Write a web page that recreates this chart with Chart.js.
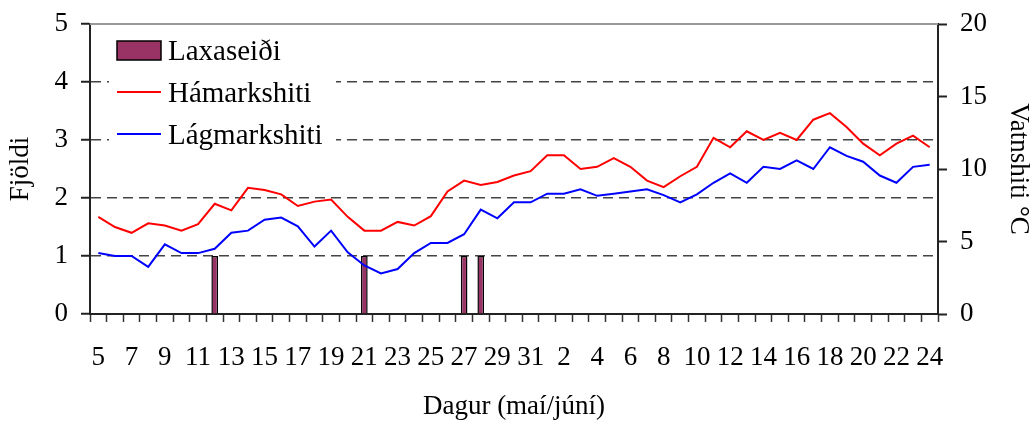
<!DOCTYPE html>
<html>
<head>
<meta charset="utf-8">
<script src="https://cdn.jsdelivr.net/npm/chart.js@4.4.1/dist/chart.umd.min.js"></script>
<style>
  body { margin: 0; background: #fff; }
  #wrap { width: 1034px; height: 423px; }
</style>
</head>
<body>
<div id="wrap"><canvas id="chart" width="1034" height="423"></canvas></div>
<script>
// day of month, 5 May .. 24 June
const days = [5, 6, 7, 8, 9, 10, 11, 12, 13, 14, 15, 16, 17, 18, 19, 20, 21, 22, 23, 24, 25, 26, 27, 28, 29, 30, 31,
              1, 2, 3, 4, 5, 6, 7, 8, 9, 10, 11, 12, 13, 14, 15, 16, 17, 18, 19, 20, 21, 22, 23, 24];

// number of salmon smolts caught (left axis)
const laxaseidi = [null, null, null, null, null, null, null, 1, null, null, null, null, null, null, null, null, 1, null, null, null, null, null, 1, 1, null, null, null,
                   null, null, null, null, null, null, null, null, null, null, null, null, null, null, null, null, null, null, null, null, null, null, null, null];

// max / min water temperature, °C (right axis)
const hamarkshiti = [6.7, 6.0, 5.6, 6.25, 6.1, 5.75, 6.2, 7.6, 7.15, 8.7, 8.55, 8.25, 7.45, 7.75, 7.9, 6.7, 5.75, 5.75, 6.35, 6.1, 6.75, 8.45, 9.2, 8.9, 9.1, 9.55, 9.85,
                     10.95, 10.95, 10.0, 10.15, 10.75, 10.15, 9.2, 8.75, 9.5, 10.15, 12.15, 11.5, 12.6, 12.0, 12.5, 12.0, 13.4, 13.85, 12.9, 11.75, 10.95, 11.75, 12.3, 11.5];
const lagmarkshiti = [4.2, 4.0, 4.0, 3.25, 4.8, 4.2, 4.2, 4.5, 5.6, 5.75, 6.5, 6.65, 6.05, 4.65, 5.75, 4.25, 3.35, 2.8, 3.1, 4.2, 4.9, 4.9, 5.5, 7.2, 6.6, 7.7, 7.7,
                      8.3, 8.3, 8.6, 8.15, 8.3, 8.45, 8.6, 8.2, 7.7, 8.25, 9.05, 9.7, 9.05, 10.15, 10.0, 10.6, 10.0, 11.5, 10.9, 10.5, 9.55, 9.05, 10.15, 10.3];

const axisColor = '#222';

Chart.defaults.font.family = "'Liberation Serif', 'Times New Roman', serif";
Chart.defaults.font.size = 27;
Chart.defaults.color = '#000';

// legend drawn inside the plot, top left, like the original
const insideLegend = {
  id: 'insideLegend',
  afterDraw(chart) {
    const ctx = chart.ctx;
    const a = chart.chartArea;
    ctx.save();
    // top border of plot area
    ctx.strokeStyle = '#999';
    ctx.lineWidth = 2;
    ctx.beginPath();
    ctx.moveTo(a.left, a.top);
    ctx.lineTo(a.right, a.top);
    ctx.stroke();

    ctx.fillStyle = '#fff';
    ctx.fillRect(109, 30, 227, 140);
    ctx.font = "29px 'Liberation Serif'";
    ctx.textBaseline = 'alphabetic';
    ctx.textAlign = 'left';
    chart.data.datasets.forEach((ds, i) => {
      const y = 50 + i * 42;
      if (ds.type === 'bar') {
        ctx.fillStyle = ds.backgroundColor;
        ctx.fillRect(117, y - 9, 44, 19);
        ctx.strokeStyle = ds.borderColor;
        ctx.lineWidth = 1.5;
        ctx.strokeRect(117, y - 9, 44, 19);
      } else {
        ctx.strokeStyle = ds.borderColor;
        ctx.lineWidth = 2;
        ctx.beginPath();
        ctx.moveTo(117, y);
        ctx.lineTo(161, y);
        ctx.stroke();
      }
      ctx.fillStyle = '#000';
      ctx.fillText(ds.label, 168, y + 10);
    });
    ctx.restore();
  }
};

// fixed axis sizes so the plot area sits where the original one does
const fitVertical = w => s => { s.width = w; s.paddingTop = 0; s.paddingBottom = 0; };

new Chart(document.getElementById('chart'), {
  data: {
    labels: days.map(String),
    datasets: [
      {
        type: 'bar',
        label: 'Laxaseiði',
        data: laxaseidi,
        yAxisID: 'y',
        backgroundColor: '#993366',
        borderColor: '#000',
        borderWidth: 1.5,
        barPercentage: 0.4,
        categoryPercentage: 1,
        order: 2
      },
      {
        type: 'line',
        label: 'Hámarkshiti',
        data: hamarkshiti,
        yAxisID: 'y2',
        borderColor: '#ff0000',
        backgroundColor: '#ff0000',
        borderWidth: 2,
        pointRadius: 0,
        tension: 0,
        order: 1
      },
      {
        type: 'line',
        label: 'Lágmarkshiti',
        data: lagmarkshiti,
        yAxisID: 'y2',
        borderColor: '#0000ff',
        backgroundColor: '#0000ff',
        borderWidth: 2,
        pointRadius: 0,
        tension: 0,
        order: 1
      }
    ]
  },
  options: {
    responsive: false,
    animation: false,
    layout: { padding: { top: 24, left: 0, right: 0, bottom: 0 } },
    plugins: {
      legend: { display: false },
      tooltip: { enabled: false }
    },
    scales: {
      x: {
        offset: true,
        grid: {
          offset: true,
          drawOnChartArea: false,
          tickLength: 8,
          tickColor: '#333',
          tickWidth: 1.5
        },
        border: { color: axisColor, width: 2 },
        ticks: {
          autoSkip: false,
          maxRotation: 0,
          padding: 20,
          callback: function (val, i) { return i % 2 === 0 ? this.getLabelForValue(val) : ''; }
        },
        title: { display: true, text: 'Dagur (maí/júní)', padding: 0 },
        afterFit: s => { s.height = 109; }
      },
      y: {
        position: 'left',
        min: 0,
        max: 5,
        ticks: { stepSize: 1, padding: 13 },
        grid: {
          color: c => (c.tick && c.tick.value > 0 && c.tick.value < 5) ? '#444' : 'rgba(0,0,0,0)',
          lineWidth: 1.5,
          tickColor: axisColor,
          tickWidth: 2,
          tickLength: 9
        },
        border: { color: axisColor, width: 2, dash: [10, 6] },
        title: { display: true, text: 'Fjöldi', padding: 5 },
        afterFit: fitVertical(90)
      },
      y2: {
        position: 'right',
        min: 0,
        max: 20,
        ticks: { stepSize: 5, padding: 13 },
        grid: {
          drawOnChartArea: false,
          tickColor: axisColor,
          tickWidth: 2,
          tickLength: 9
        },
        border: { color: axisColor, width: 2 },
        title: { display: true, text: 'Vatnshiti °C', padding: 0 },
        afterFit: fitVertical(96)
      }
    }
  },
  plugins: [insideLegend]
});
</script>
</body>
</html>
